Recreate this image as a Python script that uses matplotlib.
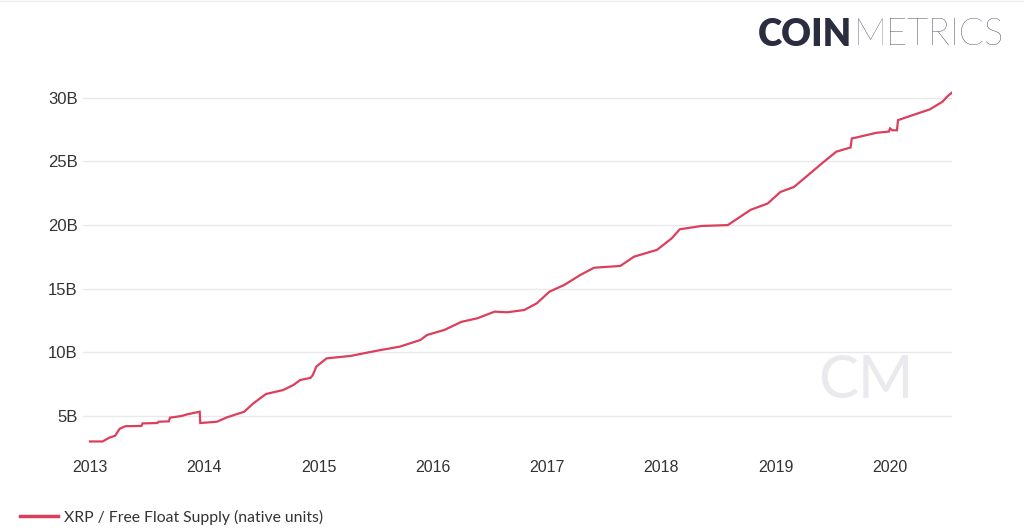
import matplotlib
matplotlib.use('Agg')
import matplotlib.pyplot as plt
from matplotlib.lines import Line2D

# data (decimal year, billions of XRP)
years = [2013.00, 2013.11, 2013.17, 2013.22, 2013.26, 2013.31, 2013.45, 2013.46,
         2013.59, 2013.60, 2013.69, 2013.70, 2013.80, 2013.85, 2013.96, 2013.965,
         2014.11, 2014.20, 2014.35, 2014.43, 2014.54, 2014.69, 2014.78, 2014.84,
         2014.93, 2014.95, 2014.98, 2015.07, 2015.28, 2015.51, 2015.71, 2015.89,
         2015.95, 2016.10, 2016.25, 2016.39, 2016.54, 2016.65, 2016.80, 2016.91,
         2017.02, 2017.15, 2017.29, 2017.41, 2017.64, 2017.76, 2017.96, 2018.09,
         2018.16, 2018.35, 2018.58, 2018.78, 2018.93, 2019.04, 2019.16, 2019.30,
         2019.42, 2019.53, 2019.655, 2019.665, 2019.88, 2019.99, 2020.00, 2020.02,
         2020.06, 2020.07, 2020.35, 2020.46, 2020.50, 2020.54]
supply_b = [3.00, 3.00, 3.30, 3.45, 4.00, 4.20, 4.22, 4.42,
            4.45, 4.55, 4.58, 4.87, 5.00, 5.13, 5.34, 4.45,
            4.55, 4.90, 5.34, 6.00, 6.73, 7.04, 7.44, 7.83,
            8.00, 8.22, 8.88, 9.53, 9.72, 10.13, 10.45, 10.97,
            11.37, 11.76, 12.40, 12.68, 13.20, 13.15, 13.33, 13.86,
            14.77, 15.30, 16.08, 16.65, 16.79, 17.52, 18.05, 18.96,
            19.67, 19.93, 20.00, 21.20, 21.70, 22.60, 23.00, 24.06,
            24.97, 25.77, 26.10, 26.80, 27.25, 27.35, 27.60, 27.45,
            27.45, 28.25, 29.10, 29.70, 30.10, 30.40]

y_ticks = [5, 10, 15, 20, 25, 30]
y_labels = ['5B', '10B', '15B', '20B', '25B', '30B']
x_ticks = [2013, 2014, 2015, 2016, 2017, 2018, 2019, 2020]
series_name = 'XRP / Free Float Supply (native units)'

line_color = '#dc3f5c'
text_color = '#333333'

fig = plt.figure(figsize=(10.24, 5.32), dpi=100)
ax = fig.add_axes([83 / 1024, 1 - 450 / 532, (952 - 83) / 1024, 370 / 532])

ax.plot(years, [v * 1e9 for v in supply_b], color=line_color, lw=1.6,
        solid_joinstyle='miter', label=series_name, zorder=3)

ax.set_xlim(2012.939, 2020.542)
ax.set_ylim(2.33e9, 31.4e9)
ax.set_yticks([v * 1e9 for v in y_ticks])
ax.set_yticklabels(y_labels)
ax.set_xticks(x_ticks)
ax.set_xticklabels([str(x) for x in x_ticks])
ax.grid(axis='y', color='#e9e9e9', lw=1)
ax.set_axisbelow(True)
for s in ax.spines.values():
    s.set_visible(False)
ax.tick_params(length=0, labelcolor=text_color)
ax.tick_params(axis='y', pad=4, labelsize=12)
ax.tick_params(axis='x', pad=7, labelsize=11.5)
for lab in ax.get_xticklabels() + ax.get_yticklabels():
    lab.set_fontfamily('Liberation Sans')

# watermark (display coords, origin bottom-left)
ax.text(866, 532 - 381, 'CM', transform=None, fontsize=43, color='#eaeaee',
        family='Lato', weight='normal', ha='center', va='center', zorder=1)

# legend
leg = fig.legend(handles=[Line2D([], [], color=line_color, lw=2.5)], labels=[series_name],
                 loc='center left', bbox_to_anchor=(20 / 1024, 1 - 517 / 532),
                 frameon=False, handlelength=2.4, handletextpad=0.4,
                 borderpad=0, borderaxespad=0,
                 prop={'family': 'Lato', 'size': 11.3})
for t in leg.get_texts():
    t.set_color(text_color)

# logo
logo_color = '#2a2c3f'
t1 = fig.text(758 / 1024, 1 - 35 / 532, 'COIN', fontsize=26.5, family='Lato',
              weight='heavy', color=logo_color, va='center', ha='left')
fig.canvas.draw()
bb = t1.get_window_extent()
fig.text((bb.x1 + 1) / 1024, 1 - 35 / 532, 'METRICS', fontsize=26.5, family='Lato',
         weight='light', color=logo_color, va='center', ha='left')

fig.add_artist(Line2D([0, 1], [0.998, 0.998], color='#eeeeee', lw=1))

fig.savefig('out.png', dpi=100, facecolor='white')
